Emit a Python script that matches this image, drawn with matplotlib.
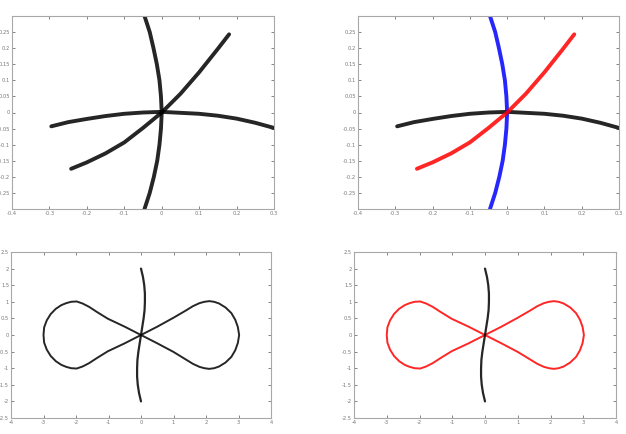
import matplotlib
matplotlib.use("Agg")
import matplotlib.pyplot as plt

W, H = 626, 434

# ---------- top panels: three curves ----------
arc_x = [-0.295, -0.25, -0.2, -0.15, -0.1, -0.05, 0.0, 0.05, 0.1, 0.15, 0.2, 0.25, 0.3]
arc_y = [-0.043, -0.030, -0.020, -0.011, -0.004, 0.000, 0.002, -0.001, -0.004, -0.010, -0.019, -0.032, -0.048]

steep_y = [0.3, 0.25, 0.2, 0.15, 0.1, 0.05, 0.0, -0.05, -0.1, -0.15, -0.2, -0.25, -0.3]
steep_x = [-0.046, -0.032, -0.022, -0.013, -0.006, -0.002, 0.0, -0.002, -0.006, -0.012, -0.021, -0.032, -0.046]

diag_x = [-0.242, -0.2, -0.15, -0.1, -0.05, 0.0, 0.05, 0.1, 0.15, 0.18]
diag_y = [-0.175, -0.155, -0.127, -0.093, -0.048, 0.0, 0.058, 0.125, 0.198, 0.243]

top_xticks = [-0.4, -0.3, -0.2, -0.1, 0.0, 0.1, 0.2, 0.3]
top_xlabels = ['-0.4', '-0.3', '-0.2', '-0.1', '0', '0.1', '0.2', '0.3']
top_yticks = [-0.25, -0.2, -0.15, -0.1, -0.05, 0.0, 0.05, 0.1, 0.15, 0.2, 0.25]
top_ylabels = ['-0.25', '-0.2', '-0.15', '-0.1', '-0.05', '0', '0.05', '0.1', '0.15', '0.2', '0.25']

# ---------- bottom panels: figure-eight and vertical curve ----------
eight_x = [0.0, 0.5, 1.0, 1.35, 1.6, 1.8, 1.95, 2.1, 2.25, 2.4, 2.6, 2.78, 2.9, 2.98, 3.02,
           2.98, 2.9, 2.78, 2.6, 2.4, 2.25, 2.1, 1.95, 1.8, 1.6, 1.35, 1.0, 0.5, 0.0,
           -0.5, -1.02, -1.35, -1.6, -1.8, -1.98, -2.15, -2.3, -2.45, -2.62, -2.78, -2.9, -2.98, -3.0,
           -2.98, -2.9, -2.78, -2.62, -2.45, -2.3, -2.15, -1.98, -1.8, -1.6, -1.35, -1.02, -0.5, 0.0]
eight_y = [0.0, 0.25, 0.52, 0.72, 0.87, 0.96, 1.0, 1.02, 1.0, 0.95, 0.83, 0.66, 0.46, 0.24, 0.0,
           -0.24, -0.46, -0.66, -0.83, -0.95, -1.0, -1.02, -1.0, -0.96, -0.87, -0.72, -0.51, -0.25, 0.0,
           0.25, 0.49, 0.69, 0.85, 0.95, 1.01, 1.0, 0.96, 0.9, 0.79, 0.63, 0.44, 0.23, 0.0,
           -0.23, -0.44, -0.63, -0.79, -0.9, -0.96, -1.0, -1.01, -0.95, -0.85, -0.69, -0.49, -0.25, 0.0]

vert_y = [2.0, 1.75, 1.5, 1.25, 1.0, 0.75, 0.5, 0.25, 0.0, -0.25, -0.5, -0.75, -1.0, -1.25, -1.5, -1.75, -2.0]
vert_x = [0.0, 0.06, 0.10, 0.12, 0.12, 0.11, 0.08, 0.04, 0.0, -0.04, -0.08, -0.11, -0.12, -0.12, -0.10, -0.06, 0.0]

bot_xticks = [-4, -3, -2, -1, 0, 1, 2, 3, 4]
bot_xlabels = ['-4', '-3', '-2', '-1', '0', '1', '2', '3', '4']
bot_yticks = [-2.5, -2, -1.5, -1, -0.5, 0, 0.5, 1, 1.5, 2, 2.5]
bot_ylabels = ['-2.5', '-2', '-1.5', '-1', '-0.5', '0', '0.5', '1', '1.5', '2', '2.5']

fig = plt.figure(figsize=(W / 100, H / 100), dpi=100)
fig.patch.set_facecolor('white')


def make_ax(x0, y0, x1, y1):
    ax = fig.add_axes([x0 / W, (H - y1) / H, (x1 - x0) / W, (y1 - y0) / H])
    for s in ax.spines.values():
        s.set_color('#a8a8a8')
        s.set_linewidth(0.8)
    ax.tick_params(direction='in', length=2.2, width=0.5, color='#555555',
                   labelsize=3.7, labelcolor='#777777', pad=1.5,
                   top=True, right=True)
    return ax


def style_top(ax):
    ax.set_xlim(-0.4, 0.3)
    ax.set_ylim(-0.3, 0.3)
    ax.set_xticks(top_xticks)
    ax.set_xticklabels(top_xlabels)
    ax.set_yticks(top_yticks)
    ax.set_yticklabels(top_ylabels)


def style_bot(ax):
    ax.set_xlim(-4, 4)
    ax.set_ylim(-2.5, 2.5)
    ax.set_xticks(bot_xticks)
    ax.set_xticklabels(bot_xlabels)
    ax.set_yticks(bot_yticks)
    ax.set_yticklabels(bot_ylabels)


def band(ax, x, y, color, lw):
    ax.plot(x, y, color=color, lw=lw, alpha=0.85, solid_capstyle='round',
            solid_joinstyle='round')


# top-left
ax1 = make_ax(12, 16, 274, 209)
band(ax1, arc_x, arc_y, 'black', 2.8)
band(ax1, steep_x, steep_y, 'black', 2.8)
band(ax1, diag_x, diag_y, 'black', 2.8)
style_top(ax1)

# top-right
ax2 = make_ax(358, 16, 619, 209)
band(ax2, arc_x, arc_y, 'black', 2.8)
band(ax2, steep_x, steep_y, '#0000ff', 2.8)
band(ax2, diag_x, diag_y, '#ff0000', 2.8)
style_top(ax2)

# bottom-left
ax3 = make_ax(11, 252, 271, 418)
band(ax3, eight_x, eight_y, 'black', 1.4)
band(ax3, vert_x, vert_y, 'black', 1.6)
style_bot(ax3)

# bottom-right
ax4 = make_ax(354, 252, 616, 418)
band(ax4, eight_x, eight_y, '#ff0000', 1.4)
band(ax4, vert_x, vert_y, 'black', 1.6)
style_bot(ax4)

fig.savefig('out.png', dpi=100, facecolor='white')
